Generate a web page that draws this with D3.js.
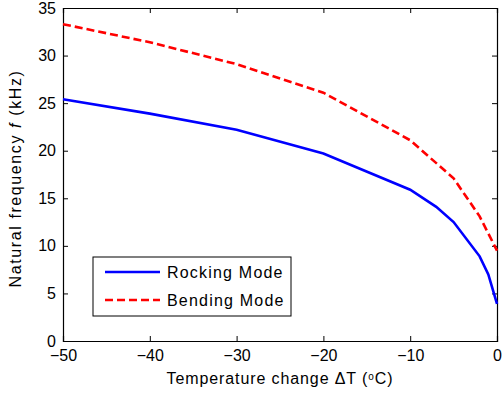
<!DOCTYPE html>
<html>
<head>
<meta charset="utf-8">
<script src="https://cdn.jsdelivr.net/npm/d3@7"></script>
<style>
  body { margin: 0; background: #fff; }
  text { font-family: "Liberation Sans", Arial, sans-serif; fill: #000; }
</style>
</head>
<body>
<script>
// data
const rockT = [-50, -40, -30, -20, -10, -7, -5, -2, -1, 0]
const rockF = [25.4, 23.9, 22.2, 19.7, 15.9, 14.1, 12.5, 8.9, 7.0, 3.9]
const bendT = [-50, -40, -30, -20, -10, -5, -2, 0]
const bendF = [33.3, 31.4, 29.1, 26.1, 21.1, 17.1, 13.1, 9.5]
const xTicks = [-50, -40, -30, -20, -10, 0]
const yTicks = [0, 5, 10, 15, 20, 25, 30, 35]
const seriesNames = ["Rocking Mode", "Bending Mode"]

//------------------------------------------------------------------------------

const margin = { top: 8, right: 5, bottom: 56, left: 63 }
const width = 502 - margin.left - margin.right
const height = 397 - margin.top - margin.bottom

const svg = d3.select("body")
    .append("svg")
    .attr("width", 502)
    .attr("height", 397)
    .append("g")
    .attr("transform", "translate(" + margin.left + "," + margin.top + ")")

let x = d3.scaleLinear().domain([-50, 0]).range([0, width])
let y = d3.scaleLinear().domain([0, 35]).range([height, 0])

//------------------------------------------------------------------------------

svg.append("g")
    .attr("transform", "translate(0," + height + ")")
    .call(d3.axisBottom(x).tickValues(xTicks).tickSize(-5).tickPadding(9))

svg.append("g")
    .call(d3.axisLeft(y).tickValues(yTicks).tickSize(-5).tickPadding(7))

svg.append("g")
    .call(d3.axisTop(x).tickValues(xTicks).tickSize(-5).tickFormat(""))

svg.append("g")
    .attr("transform", "translate(" + width + ",0)")
    .call(d3.axisRight(y).tickValues(yTicks).tickSize(-5).tickFormat(""))

svg.selectAll(".domain").attr("stroke", "#000").attr("stroke-width", 1.2)
svg.selectAll(".tick line").attr("stroke", "#000")
svg.selectAll(".tick text")
    .style("font-family", "'Liberation Sans', Arial, sans-serif")
    .style("font-size", "16px")
    .attr("fill", "#000")

//------------------------------------------------------------------------------

const line = d3.line()
    .x(d => x(d[0]))
    .y(d => y(d[1]))

svg.append("path")
    .datum(rockT.map((t, i) => [t, rockF[i]]))
    .attr("d", line)
    .attr("fill", "none")
    .attr("stroke", "#0000ff")
    .attr("stroke-width", 2.6)

svg.append("path")
    .datum(bendT.map((t, i) => [t, bendF[i]]))
    .attr("d", line)
    .attr("fill", "none")
    .attr("stroke", "#ff0000")
    .attr("stroke-width", 2.6)
    .attr("stroke-dasharray", "8,4")

//------------------------------------------------------------------------------

svg.append("text")
    .attr("text-anchor", "middle")
    .attr("x", width / 2)
    .attr("y", height + 43)
    .style("font-size", "16px")
    .style("letter-spacing", "0.9px")
    .html("Temperature change \u0394T (<tspan font-size='10px' dy='-4'>o</tspan><tspan dy='4'>C)</tspan>")

svg.append("text")
    .attr("text-anchor", "middle")
    .attr("transform", "translate(" + (21 - margin.left) + "," + (height / 2 + 4) + ") rotate(-90)")
    .style("font-size", "16px")
    .style("letter-spacing", "1.6px")
    .html("Natural frequency <tspan font-style='italic'>f</tspan> (kHz)")

//------------------------------------------------------------------------------

const legend = svg.append("g").attr("transform", "translate(" + (93 - margin.left) + "," + (257 - margin.top) + ")")

legend.append("rect")
    .attr("width", 198)
    .attr("height", 59)
    .attr("fill", "#fff")
    .attr("stroke", "#000")
    .attr("stroke-width", 1)

const legColors = ["#0000ff", "#ff0000"]
const legDash = [null, "8,4"]
seriesNames.forEach((name, i) => {
    const yy = 15 + i * 28
    legend.append("line")
        .attr("x1", 12).attr("x2", 67)
        .attr("y1", yy).attr("y2", yy)
        .attr("stroke", legColors[i])
        .attr("stroke-width", 2.6)
        .attr("stroke-dasharray", legDash[i])
    legend.append("text")
        .attr("x", 74)
        .attr("y", yy + 6)
        .style("font-size", "16px")
        .style("letter-spacing", "1.2px")
        .text(name)
})
</script>
</body>
</html>
